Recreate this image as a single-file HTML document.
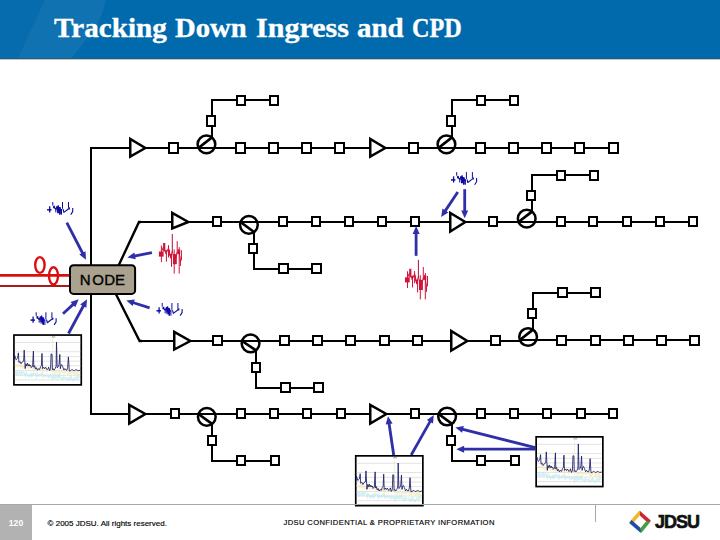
<!DOCTYPE html>
<html><head><meta charset="utf-8"><style>
html,body{margin:0;padding:0;background:#fff;}
body{width:720px;height:540px;position:relative;overflow:hidden;font-family:"Liberation Sans",sans-serif;}
#hdr{position:absolute;left:0;top:0;width:720px;height:59px;background:#006aac;overflow:hidden;}
#hdrline{position:absolute;left:0;top:59px;width:720px;height:1px;background:#b4c8d2;}
.tw{position:absolute;top:12px;font-family:"Liberation Serif",serif;font-weight:bold;font-size:28px;line-height:32px;color:#fff;white-space:nowrap;-webkit-text-stroke:0.35px #fff;transform-origin:0 0;}
#diag{position:absolute;left:0;top:0;}
#fline{position:absolute;left:0;top:504px;width:720px;height:1px;background:#a8a8a8;}
#fvline{position:absolute;left:595px;top:504px;width:1px;height:18px;background:#a8a8a8;}
#pg{position:absolute;left:0;top:505px;width:32px;height:35px;background:#b2b2b2;color:#fff;font-size:8.6px;font-weight:bold;line-height:36px;text-align:center;}
#copy{position:absolute;left:47.6px;top:519px;font-size:8px;color:#000;white-space:nowrap;-webkit-text-stroke:0.15px #000;}
#conf{position:absolute;left:283.5px;top:518.2px;font-size:7.6px;color:#000;white-space:nowrap;letter-spacing:0.38px;-webkit-text-stroke:0.15px #000;}
#logo{position:absolute;left:0;top:0;}
#jdsu{position:absolute;left:655px;top:510.5px;font-size:18px;font-weight:bold;color:#111;letter-spacing:-1.0px;white-space:nowrap;line-height:22px;-webkit-text-stroke:0.6px #111;}
</style></head><body>
<div id="hdr">
<svg width="720" height="59" style="position:absolute;left:0;top:0">
<rect x="0" y="0" width="720" height="58" fill="#066cae"/>
<path d="M18,58 L45,0 L106,0 C104,12 98,25 90,35 C84,43 78,50 72,58 Z" fill="#ffffff" fill-opacity="0.045"/>
<path d="M106,0 C104,12 98,25 90,35 C84,43 78,50 72,58 L720,58 L720,0 Z" fill="#006aac"/>
<path d="M103,0 L140,0 C130,10 120,14 105,14 Z" fill="#ffffff" fill-opacity="0.0"/>
<rect x="0" y="58" width="720" height="1" fill="#2d5a78"/>
</svg>
<div class="tw" style="left:53.6px;transform:scaleX(1.041)">Tracking</div><div class="tw" style="left:175.4px;transform:scaleX(1.023)">Down</div><div class="tw" style="left:256.2px;transform:scaleX(1.073)">Ingress</div><div class="tw" style="left:357.3px;transform:scaleX(1.035)">and</div><div class="tw" style="left:412.3px;transform:scaleX(0.863)">CPD</div>
</div>
<div id="hdrline"></div>
<svg id="diag" width="720" height="540" viewBox="0 0 720 540">
<path d="M91,147 V415" fill="none" stroke="#000" stroke-width="2.0" stroke-linejoin="miter" stroke-linecap="butt"/>
<path d="M90,148 H613" fill="none" stroke="#000" stroke-width="2.0" stroke-linejoin="miter" stroke-linecap="butt"/>
<path d="M212,140 V100 H274" fill="none" stroke="#000" stroke-width="2.0" stroke-linejoin="miter" stroke-linecap="butt"/>
<path d="M452,140 V100 H514" fill="none" stroke="#000" stroke-width="2.0" stroke-linejoin="miter" stroke-linecap="butt"/>
<path d="M138.2,222 H693" fill="none" stroke="#000" stroke-width="2.0" stroke-linejoin="miter" stroke-linecap="butt"/>
<path d="M254,228 V269 H316" fill="none" stroke="#000" stroke-width="2.0" stroke-linejoin="miter" stroke-linecap="butt"/>
<path d="M532,215 V175 H594" fill="none" stroke="#000" stroke-width="2.0" stroke-linejoin="miter" stroke-linecap="butt"/>
<path d="M139,341 H520" fill="none" stroke="#000" stroke-width="2.0" stroke-linejoin="miter" stroke-linecap="butt"/>
<path d="M519,340 H695" fill="none" stroke="#000" stroke-width="2.0" stroke-linejoin="miter" stroke-linecap="butt"/>
<path d="M256,345 V388 H318" fill="none" stroke="#000" stroke-width="2.0" stroke-linejoin="miter" stroke-linecap="butt"/>
<path d="M533,333 V293 H595" fill="none" stroke="#000" stroke-width="2.0" stroke-linejoin="miter" stroke-linecap="butt"/>
<path d="M90,414 H613" fill="none" stroke="#000" stroke-width="2.0" stroke-linejoin="miter" stroke-linecap="butt"/>
<path d="M212,420 V461 H274" fill="none" stroke="#000" stroke-width="2.0" stroke-linejoin="miter" stroke-linecap="butt"/>
<path d="M452,420 V461 H514" fill="none" stroke="#000" stroke-width="2.0" stroke-linejoin="miter" stroke-linecap="butt"/>
<path d="M118.6,265.5 L139,222 H141" fill="none" stroke="#000" stroke-width="2.4" stroke-linejoin="miter"/>
<path d="M115.6,293.5 L139.6,341 H142" fill="none" stroke="#000" stroke-width="2.4" stroke-linejoin="miter"/>
<circle cx="206.45" cy="144.3" r="8.85" fill="#fff" stroke="#000" stroke-width="2.5"/>
<path d="M197.6,148 H215.29999999999998" stroke="#000" stroke-width="2.0"/>
<path d="M198.41,148.00 L212.00,137.41" stroke="#000" stroke-width="2.7"/>
<circle cx="446.45" cy="144.3" r="8.85" fill="#fff" stroke="#000" stroke-width="2.5"/>
<path d="M437.59999999999997,148 H455.3" stroke="#000" stroke-width="2.0"/>
<path d="M438.41,148.00 L452.00,137.41" stroke="#000" stroke-width="2.7"/>
<circle cx="248.9" cy="224.8" r="8.85" fill="#fff" stroke="#000" stroke-width="2.5"/>
<path d="M240.05,222 H257.75" stroke="#000" stroke-width="2.0"/>
<path d="M240.50,222.00 L254.00,232.03" stroke="#000" stroke-width="2.7"/>
<circle cx="526.7" cy="218.7" r="8.85" fill="#fff" stroke="#000" stroke-width="2.5"/>
<path d="M517.85,222 H535.5500000000001" stroke="#000" stroke-width="2.0"/>
<path d="M518.49,222.00 L532.00,211.61" stroke="#000" stroke-width="2.7"/>
<circle cx="250.55" cy="343.45" r="8.85" fill="#fff" stroke="#000" stroke-width="2.5"/>
<path d="M241.70000000000002,341 H259.40000000000003" stroke="#000" stroke-width="2.0"/>
<path d="M242.05,341.00 L256.00,350.42" stroke="#000" stroke-width="2.7"/>
<circle cx="528.1" cy="337.0" r="8.85" fill="#fff" stroke="#000" stroke-width="2.5"/>
<path d="M519.25,340 H536.95" stroke="#000" stroke-width="2.0"/>
<path d="M519.77,340.00 L533.00,329.63" stroke="#000" stroke-width="2.7"/>
<circle cx="206.8" cy="416.8" r="8.85" fill="#fff" stroke="#000" stroke-width="2.5"/>
<path d="M197.95000000000002,414 H215.65" stroke="#000" stroke-width="2.0"/>
<path d="M198.40,414.00 L212.00,423.96" stroke="#000" stroke-width="2.7"/>
<circle cx="447.1" cy="416.5" r="8.85" fill="#fff" stroke="#000" stroke-width="2.5"/>
<path d="M438.25,414 H455.95000000000005" stroke="#000" stroke-width="2.0"/>
<path d="M438.61,414.00 L452.00,423.87" stroke="#000" stroke-width="2.7"/>
<polygon points="130.25,138.90 130.25,156.50 145.30,148" fill="#fff" stroke="#000" stroke-width="2.5" stroke-linejoin="miter" stroke-miterlimit="10"/>
<polygon points="370.25,138.90 370.25,156.50 385.30,148" fill="#fff" stroke="#000" stroke-width="2.5" stroke-linejoin="miter" stroke-miterlimit="10"/>
<polygon points="172.25,212.90 172.25,228.50 188.30,222" fill="#fff" stroke="#000" stroke-width="2.5" stroke-linejoin="miter" stroke-miterlimit="10"/>
<polygon points="450.25,212.90 450.25,231.50 465.30,222" fill="#fff" stroke="#000" stroke-width="2.5" stroke-linejoin="miter" stroke-miterlimit="10"/>
<polygon points="174.25,331.90 174.25,349.50 190.30,341" fill="#fff" stroke="#000" stroke-width="2.5" stroke-linejoin="miter" stroke-miterlimit="10"/>
<polygon points="451.25,330.90 451.25,350.50 467.30,341" fill="#fff" stroke="#000" stroke-width="2.5" stroke-linejoin="miter" stroke-miterlimit="10"/>
<polygon points="129.25,404.90 129.25,423.50 145.30,414" fill="#fff" stroke="#000" stroke-width="2.5" stroke-linejoin="miter" stroke-miterlimit="10"/>
<polygon points="370.25,404.90 370.25,423.50 386.30,414" fill="#fff" stroke="#000" stroke-width="2.5" stroke-linejoin="miter" stroke-miterlimit="10"/>
<rect x="169" y="143" width="9" height="10" fill="#fff" stroke="#000" stroke-width="2"/>
<rect x="236" y="143" width="9" height="10" fill="#fff" stroke="#000" stroke-width="2"/>
<rect x="269" y="143" width="9" height="10" fill="#fff" stroke="#000" stroke-width="2"/>
<rect x="302" y="143" width="9" height="10" fill="#fff" stroke="#000" stroke-width="2"/>
<rect x="335" y="143" width="9" height="10" fill="#fff" stroke="#000" stroke-width="2"/>
<rect x="409" y="143" width="9" height="10" fill="#fff" stroke="#000" stroke-width="2"/>
<rect x="476" y="143" width="9" height="10" fill="#fff" stroke="#000" stroke-width="2"/>
<rect x="509" y="143" width="9" height="10" fill="#fff" stroke="#000" stroke-width="2"/>
<rect x="542" y="143" width="9" height="10" fill="#fff" stroke="#000" stroke-width="2"/>
<rect x="575" y="143" width="9" height="10" fill="#fff" stroke="#000" stroke-width="2"/>
<rect x="609" y="143" width="9" height="10" fill="#fff" stroke="#000" stroke-width="2"/>
<rect x="207" y="116" width="8" height="10" fill="#fff" stroke="#000" stroke-width="2"/>
<rect x="447" y="116" width="8" height="10" fill="#fff" stroke="#000" stroke-width="2"/>
<rect x="237" y="96" width="8" height="9" fill="#fff" stroke="#000" stroke-width="2"/>
<rect x="270" y="96" width="8" height="9" fill="#fff" stroke="#000" stroke-width="2"/>
<rect x="477" y="96" width="8" height="9" fill="#fff" stroke="#000" stroke-width="2"/>
<rect x="510" y="96" width="8" height="9" fill="#fff" stroke="#000" stroke-width="2"/>
<rect x="213" y="217" width="8" height="9" fill="#fff" stroke="#000" stroke-width="2"/>
<rect x="279" y="217" width="8" height="9" fill="#fff" stroke="#000" stroke-width="2"/>
<rect x="312" y="217" width="8" height="9" fill="#fff" stroke="#000" stroke-width="2"/>
<rect x="345" y="217" width="8" height="9" fill="#fff" stroke="#000" stroke-width="2"/>
<rect x="378" y="217" width="8" height="9" fill="#fff" stroke="#000" stroke-width="2"/>
<rect x="411" y="217" width="8" height="9" fill="#fff" stroke="#000" stroke-width="2"/>
<rect x="489" y="217" width="8" height="9" fill="#fff" stroke="#000" stroke-width="2"/>
<rect x="557" y="217" width="8" height="9" fill="#fff" stroke="#000" stroke-width="2"/>
<rect x="589" y="217" width="8" height="9" fill="#fff" stroke="#000" stroke-width="2"/>
<rect x="623" y="217" width="8" height="9" fill="#fff" stroke="#000" stroke-width="2"/>
<rect x="656" y="217" width="8" height="9" fill="#fff" stroke="#000" stroke-width="2"/>
<rect x="689" y="217" width="8" height="9" fill="#fff" stroke="#000" stroke-width="2"/>
<rect x="249" y="244" width="8" height="9" fill="#fff" stroke="#000" stroke-width="2"/>
<rect x="527" y="191" width="8" height="9" fill="#fff" stroke="#000" stroke-width="2"/>
<rect x="279" y="264" width="9" height="9" fill="#fff" stroke="#000" stroke-width="2"/>
<rect x="312" y="264" width="9" height="9" fill="#fff" stroke="#000" stroke-width="2"/>
<rect x="557" y="171" width="8" height="9" fill="#fff" stroke="#000" stroke-width="2"/>
<rect x="590" y="171" width="8" height="9" fill="#fff" stroke="#000" stroke-width="2"/>
<rect x="213" y="336" width="9" height="9" fill="#fff" stroke="#000" stroke-width="2"/>
<rect x="280" y="336" width="9" height="9" fill="#fff" stroke="#000" stroke-width="2"/>
<rect x="313" y="336" width="9" height="9" fill="#fff" stroke="#000" stroke-width="2"/>
<rect x="346" y="336" width="9" height="9" fill="#fff" stroke="#000" stroke-width="2"/>
<rect x="380" y="336" width="9" height="9" fill="#fff" stroke="#000" stroke-width="2"/>
<rect x="413" y="336" width="9" height="9" fill="#fff" stroke="#000" stroke-width="2"/>
<rect x="491" y="336" width="9" height="9" fill="#fff" stroke="#000" stroke-width="2"/>
<rect x="557" y="336" width="9" height="9" fill="#fff" stroke="#000" stroke-width="2"/>
<rect x="591" y="336" width="9" height="9" fill="#fff" stroke="#000" stroke-width="2"/>
<rect x="624" y="336" width="9" height="9" fill="#fff" stroke="#000" stroke-width="2"/>
<rect x="657" y="336" width="9" height="9" fill="#fff" stroke="#000" stroke-width="2"/>
<rect x="690" y="336" width="9" height="9" fill="#fff" stroke="#000" stroke-width="2"/>
<rect x="252" y="363" width="8" height="9" fill="#fff" stroke="#000" stroke-width="2"/>
<rect x="528" y="309" width="8" height="9" fill="#fff" stroke="#000" stroke-width="2"/>
<rect x="281" y="383" width="9" height="9" fill="#fff" stroke="#000" stroke-width="2"/>
<rect x="314" y="383" width="9" height="9" fill="#fff" stroke="#000" stroke-width="2"/>
<rect x="558" y="288" width="9" height="9" fill="#fff" stroke="#000" stroke-width="2"/>
<rect x="591" y="288" width="9" height="9" fill="#fff" stroke="#000" stroke-width="2"/>
<rect x="171" y="409" width="8" height="9" fill="#fff" stroke="#000" stroke-width="2"/>
<rect x="237" y="409" width="8" height="9" fill="#fff" stroke="#000" stroke-width="2"/>
<rect x="270" y="409" width="8" height="9" fill="#fff" stroke="#000" stroke-width="2"/>
<rect x="303" y="409" width="8" height="9" fill="#fff" stroke="#000" stroke-width="2"/>
<rect x="337" y="409" width="8" height="9" fill="#fff" stroke="#000" stroke-width="2"/>
<rect x="411" y="409" width="8" height="9" fill="#fff" stroke="#000" stroke-width="2"/>
<rect x="477" y="409" width="8" height="9" fill="#fff" stroke="#000" stroke-width="2"/>
<rect x="510" y="409" width="8" height="9" fill="#fff" stroke="#000" stroke-width="2"/>
<rect x="543" y="409" width="8" height="9" fill="#fff" stroke="#000" stroke-width="2"/>
<rect x="577" y="409" width="8" height="9" fill="#fff" stroke="#000" stroke-width="2"/>
<rect x="609" y="409" width="8" height="9" fill="#fff" stroke="#000" stroke-width="2"/>
<rect x="208" y="436" width="8" height="9" fill="#fff" stroke="#000" stroke-width="2"/>
<rect x="447" y="436" width="8" height="9" fill="#fff" stroke="#000" stroke-width="2"/>
<rect x="237" y="456" width="8" height="9" fill="#fff" stroke="#000" stroke-width="2"/>
<rect x="271" y="456" width="8" height="9" fill="#fff" stroke="#000" stroke-width="2"/>
<rect x="477" y="456" width="8" height="9" fill="#fff" stroke="#000" stroke-width="2"/>
<rect x="511" y="456" width="8" height="9" fill="#fff" stroke="#000" stroke-width="2"/>
<path d="M0,275.3 H70" stroke="#d81010" stroke-width="2.8"/>
<path d="M0,285.9 H70" stroke="#a81c1c" stroke-width="2"/>
<ellipse cx="39.9" cy="265" rx="4.7" ry="7.9" fill="none" stroke="#d81010" stroke-width="2.4"/>
<ellipse cx="53.5" cy="275.8" rx="4.5" ry="8.6" fill="none" stroke="#d81010" stroke-width="2.4"/>
<rect x="70" y="265.3" width="65.1" height="28.6" rx="3.5" fill="#aaa18f" stroke="#000" stroke-width="2"/>
<text x="79.8 92.2 104.2 115.0" y="284.7" font-family="Liberation Sans" font-size="15" fill="#000" stroke="#000" stroke-width="0.35">NODE</text>
<path d="M66.80,222.60 L82.88,253.76" stroke="#2f2fa8" stroke-width="2.8"/>
<polygon points="86.00,259.80 79.31,254.47 85.53,251.26" fill="#2f2fa8"/>
<path d="M151.90,252.60 L134.07,256.09" stroke="#2f2fa8" stroke-width="2.8"/>
<polygon points="127.40,257.40 134.38,252.47 135.73,259.34" fill="#2f2fa8"/>
<path d="M149.60,307.80 L132.78,302.46" stroke="#2f2fa8" stroke-width="2.8"/>
<polygon points="126.30,300.40 134.79,299.43 132.67,306.10" fill="#2f2fa8"/>
<path d="M63.00,313.70 L73.69,303.90" stroke="#2f2fa8" stroke-width="2.8"/>
<polygon points="78.70,299.30 75.32,307.15 70.59,301.99" fill="#2f2fa8"/>
<path d="M68.50,333.50 L83.76,305.28" stroke="#2f2fa8" stroke-width="2.8"/>
<polygon points="87.00,299.30 86.37,307.83 80.21,304.50" fill="#2f2fa8"/>
<path d="M457.80,192.00 L444.88,211.35" stroke="#2f2fa8" stroke-width="2.8"/>
<polygon points="441.10,217.00 442.52,208.57 448.34,212.46" fill="#2f2fa8"/>
<path d="M464.70,189.20 L464.70,211.50" stroke="#2f2fa8" stroke-width="2.8"/>
<polygon points="464.70,218.30 461.20,210.50 468.20,210.50" fill="#2f2fa8"/>
<path d="M416.10,255.80 L416.10,232.90" stroke="#2f2fa8" stroke-width="2.8"/>
<polygon points="416.10,226.10 419.60,233.90 412.60,233.90" fill="#2f2fa8"/>
<path d="M393.70,455.00 L388.99,423.03" stroke="#2f2fa8" stroke-width="2.8"/>
<polygon points="388.00,416.30 392.60,423.51 385.67,424.53" fill="#2f2fa8"/>
<path d="M411.20,455.00 L430.45,420.92" stroke="#2f2fa8" stroke-width="2.8"/>
<polygon points="433.80,415.00 433.01,423.51 426.92,420.07" fill="#2f2fa8"/>
<path d="M535.30,447.60 L461.99,429.07" stroke="#2f2fa8" stroke-width="2.8"/>
<polygon points="455.40,427.40 463.82,425.92 462.10,432.71" fill="#2f2fa8"/>
<path d="M535.30,449.20 L463.10,449.20" stroke="#2f2fa8" stroke-width="2.8"/>
<polygon points="456.30,449.20 464.10,445.70 464.10,452.70" fill="#2f2fa8"/>
<g transform="translate(47.1,202.0)" stroke="#0c0ca0" fill="#0c0ca0" stroke-linecap="butt"><path d="M0,7.8 H4.4" stroke-width="1.5" fill="none"/><path d="M2.6,4.2 V10.4" stroke-width="1.3" fill="none"/><path d="M5.7,0 V3.6 M8.7,5.8 V10.4 M10.5,5.5 V11.2 M13.1,5 V12.2 M14.4,7 V12.7 M15.4,0 V6.8 M21.4,0 V5.8" stroke-width="1" fill="none"/><path d="M6.6,5 L8.7,7.2 L10,6.5 M16,7.2 L16.8,10.4 L20.6,7.5 L21.6,6.5 M25.6,6 V9.6 L23.6,12.6" stroke-width="1.1" fill="none" stroke-linejoin="round"/><rect x="6" y="3.8" width="1.8" height="2.4" stroke="none"/><path d="M9.3,6.5 L10,4.2 L10.5,9.5 L11.1,3.2 L11.7,11.2 L12.3,5 L12.7,12.7 L13.2,6.5 L13.6,9" stroke-width="1.3" fill="none" stroke-linejoin="miter" stroke-miterlimit="2"/><rect x="21.4" y="5.4" width="1.5" height="2" stroke="none"/></g>
<g transform="translate(156.5,303.0)" stroke="#0c0ca0" fill="#0c0ca0" stroke-linecap="butt"><path d="M0,7.8 H4.4" stroke-width="1.5" fill="none"/><path d="M2.6,4.2 V10.4" stroke-width="1.3" fill="none"/><path d="M5.7,0 V3.6 M8.7,5.8 V10.4 M10.5,5.5 V11.2 M13.1,5 V12.2 M14.4,7 V12.7 M15.4,0 V6.8 M21.4,0 V5.8" stroke-width="1" fill="none"/><path d="M6.6,5 L8.7,7.2 L10,6.5 M16,7.2 L16.8,10.4 L20.6,7.5 L21.6,6.5 M25.6,6 V9.6 L23.6,12.6" stroke-width="1.1" fill="none" stroke-linejoin="round"/><rect x="6" y="3.8" width="1.8" height="2.4" stroke="none"/><path d="M9.3,6.5 L10,4.2 L10.5,9.5 L11.1,3.2 L11.7,11.2 L12.3,5 L12.7,12.7 L13.2,6.5 L13.6,9" stroke-width="1.3" fill="none" stroke-linejoin="miter" stroke-miterlimit="2"/><rect x="21.4" y="5.4" width="1.5" height="2" stroke="none"/></g>
<g transform="translate(30.5,312.3)" stroke="#0c0ca0" fill="#0c0ca0" stroke-linecap="butt"><path d="M0,7.8 H4.4" stroke-width="1.5" fill="none"/><path d="M2.6,4.2 V10.4" stroke-width="1.3" fill="none"/><path d="M5.7,0 V3.6 M8.7,5.8 V10.4 M10.5,5.5 V11.2 M13.1,5 V12.2 M14.4,7 V12.7 M15.4,0 V6.8 M21.4,0 V5.8" stroke-width="1" fill="none"/><path d="M6.6,5 L8.7,7.2 L10,6.5 M16,7.2 L16.8,10.4 L20.6,7.5 L21.6,6.5 M25.6,6 V9.6 L23.6,12.6" stroke-width="1.1" fill="none" stroke-linejoin="round"/><rect x="6" y="3.8" width="1.8" height="2.4" stroke="none"/><path d="M9.3,6.5 L10,4.2 L10.5,9.5 L11.1,3.2 L11.7,11.2 L12.3,5 L12.7,12.7 L13.2,6.5 L13.6,9" stroke-width="1.3" fill="none" stroke-linejoin="miter" stroke-miterlimit="2"/><rect x="21.4" y="5.4" width="1.5" height="2" stroke="none"/></g>
<g transform="translate(451.0,172.1)" stroke="#0c0ca0" fill="#0c0ca0" stroke-linecap="butt"><path d="M0,7.8 H4.4" stroke-width="1.5" fill="none"/><path d="M2.6,4.2 V10.4" stroke-width="1.3" fill="none"/><path d="M5.7,0 V3.6 M8.7,5.8 V10.4 M10.5,5.5 V11.2 M13.1,5 V12.2 M14.4,7 V12.7 M15.4,0 V6.8 M21.4,0 V5.8" stroke-width="1" fill="none"/><path d="M6.6,5 L8.7,7.2 L10,6.5 M16,7.2 L16.8,10.4 L20.6,7.5 L21.6,6.5 M25.6,6 V9.6 L23.6,12.6" stroke-width="1.1" fill="none" stroke-linejoin="round"/><rect x="6" y="3.8" width="1.8" height="2.4" stroke="none"/><path d="M9.3,6.5 L10,4.2 L10.5,9.5 L11.1,3.2 L11.7,11.2 L12.3,5 L12.7,12.7 L13.2,6.5 L13.6,9" stroke-width="1.3" fill="none" stroke-linejoin="miter" stroke-miterlimit="2"/><rect x="21.4" y="5.4" width="1.5" height="2" stroke="none"/></g>
<g transform="translate(158.9,234.0)" stroke-linecap="butt"><path d="M0.4,20 L2.5,18 L4.5,13 L6,17 L7.5,19 L9.6,14 L10.6,19 L12,22 L13.4,17 L15.3,26 L17,24 L18.3,18 L20.3,18 L21.5,28 L22.5,22" stroke="#d0143c" stroke-width="1" fill="none" stroke-linejoin="round"/><g fill="#d0143c" stroke="none"><rect x="0" y="17.5" width="4.7" height="5.1"/><rect x="4.2" y="9" width="2.2" height="8.5"/><rect x="6.4" y="15.8" width="1.6" height="4.2"/><rect x="11" y="20" width="1.8" height="4.3"/><rect x="14" y="20.1" width="3.9" height="10.1"/><rect x="18.7" y="15.4" width="2.6" height="4.7"/></g><path d="M2.5,11.5 V28.2 M7.5,18.2 V27.7 M9.6,11.2 V23.5 M10.6,15.8 V21.7 M12.6,20.1 V32.8 M15.3,15.4 V39.6 M18.3,7.2 V20.1 M20.3,13.2 V39.6 M21.5,26.9 V32 M22.5,16.2 V26.4" stroke="#d0143c" stroke-width="1" fill="none"/><path d="M13.4,0 V17.5" stroke="#a8163e" stroke-width="1" fill="none"/></g>
<g transform="translate(405.0,259.8)" stroke-linecap="butt"><path d="M0.4,20 L2.5,18 L4.5,13 L6,17 L7.5,19 L9.6,14 L10.6,19 L12,22 L13.4,17 L15.3,26 L17,24 L18.3,18 L20.3,18 L21.5,28 L22.5,22" stroke="#d0143c" stroke-width="1" fill="none" stroke-linejoin="round"/><g fill="#d0143c" stroke="none"><rect x="0" y="17.5" width="4.7" height="5.1"/><rect x="4.2" y="9" width="2.2" height="8.5"/><rect x="6.4" y="15.8" width="1.6" height="4.2"/><rect x="11" y="20" width="1.8" height="4.3"/><rect x="14" y="20.1" width="3.9" height="10.1"/><rect x="18.7" y="15.4" width="2.6" height="4.7"/></g><path d="M2.5,11.5 V28.2 M7.5,18.2 V27.7 M9.6,11.2 V23.5 M10.6,15.8 V21.7 M12.6,20.1 V32.8 M15.3,15.4 V39.6 M18.3,7.2 V20.1 M20.3,13.2 V39.6 M21.5,26.9 V32 M22.5,16.2 V26.4" stroke="#d0143c" stroke-width="1" fill="none"/><path d="M13.4,0 V17.5" stroke="#a8163e" stroke-width="1" fill="none"/></g>
<g transform="translate(13.1,334.2) scale(1.0000,1.0000)"><rect x="0.85" y="0.85" width="67.3" height="49.8" fill="#fff" stroke="#000" stroke-width="1.7"/><path d="M1.8,8.3 H67.2" stroke="#dcdcd8" stroke-width="0.8"/><path d="M1.8,17.5 H67.2" stroke="#dcdcd8" stroke-width="0.8"/><path d="M1.8,22.4 H67.2" stroke="#dcdcd8" stroke-width="0.8"/><path d="M1.8,27 H67.2" stroke="#dcdcd8" stroke-width="0.8"/><path d="M1.8,31.6 H67.2" stroke="#dcdcd8" stroke-width="0.8"/><path d="M1.8,36.5 H67.2" stroke="#dcdcd8" stroke-width="0.8"/><path d="M1.8,41 H67.2" stroke="#dcdcd8" stroke-width="0.8"/><path d="M1.8,45.7 H67.2" stroke="#dcdcd8" stroke-width="0.8"/><path d="M1.80,38.58 L2.60,37.75 L3.40,40.41 L4.20,37.46 L5.00,39.93 L5.80,39.11 L6.60,37.57 L7.40,39.97 L8.20,37.58 L9.00,39.71 L9.80,37.87 L10.60,38.04 L11.40,39.84 L12.20,41.99 L13.00,38.40 L13.80,38.98 L14.60,41.14 L15.40,42.87 L16.20,41.00 L17.00,40.12 L17.80,43.20 L18.60,38.43 L19.40,42.71 L20.20,39.81 L21.00,39.12 L21.80,39.04 L22.60,40.09 L23.40,42.80 L24.20,39.55 L25.00,41.70 L25.80,42.06 L26.60,40.73 L27.40,41.71 L28.20,39.24 L29.00,39.29 L29.80,40.11 L30.60,42.64 L31.40,41.39 L32.20,40.86 L33.00,42.33 L33.80,41.70 L34.60,40.97 L35.40,43.60 L36.20,43.16 L37.00,40.86 L37.80,42.64 L38.60,42.44 L39.40,44.33 L40.20,43.63 L41.00,41.39 L41.80,45.06 L42.60,40.63 L43.40,42.25 L44.20,44.08 L45.00,40.99 L45.80,42.81 L46.60,40.53 L47.40,43.86 L48.20,44.42 L49.00,43.49 L49.80,45.12 L50.60,42.26 L51.40,44.31 L52.20,43.84 L53.00,43.83 L53.80,43.25 L54.60,45.30 L55.40,45.91 L56.20,43.52 L57.00,44.57 L57.80,41.50 L58.60,44.89 L59.40,44.67 L60.20,46.53 L61.00,45.70 L61.80,42.97 L62.60,43.55 L63.40,45.09 L64.20,41.79 L65.00,44.13 L65.80,42.67 L66.60,42.46" fill="none" stroke="#b4e8f2" stroke-width="1.4" stroke-opacity="0.6"/><path d="M1.80,30.06 L2.60,31.26 L3.40,30.74 L4.20,31.69 L5.00,31.87 L5.80,29.96 L6.60,29.87 L7.40,32.94 L8.20,30.97 L9.00,30.98 L9.80,33.82 L10.60,32.04 L11.40,33.46 L12.20,32.27 L13.00,32.96 L13.80,31.30 L14.60,33.15 L15.40,34.09 L16.20,32.96 L17.00,33.84 L17.80,33.70 L18.60,31.61 L19.40,34.22 L20.20,33.72 L21.00,32.78 L21.80,31.91 L22.60,35.02 L23.40,33.71 L24.20,34.70 L25.00,35.38 L25.80,34.89 L26.60,35.74 L27.40,33.95 L28.20,35.51 L29.00,34.34 L29.80,36.21 L30.60,36.11 L31.40,33.40 L32.20,33.64 L33.00,34.04 L33.80,36.83 L34.60,35.03 L35.40,35.82 L36.20,34.75 L37.00,35.60 L37.80,35.27 L38.60,35.25 L39.40,36.19 L40.20,36.29 L41.00,37.55 L41.80,36.85 L42.60,37.85 L43.40,37.69 L44.20,38.28 L45.00,37.23 L45.80,35.51 L46.60,38.12 L47.40,38.60 L48.20,38.49 L49.00,37.38 L49.80,38.01 L50.60,36.30 L51.40,38.64 L52.20,37.82 L53.00,36.88 L53.80,36.19 L54.60,39.14 L55.40,39.73 L56.20,36.59 L57.00,39.26 L57.80,37.96 L58.60,37.13 L59.40,37.74 L60.20,39.56 L61.00,40.04 L61.80,37.16 L62.60,39.31 L63.40,37.37 L64.20,39.90 L65.00,38.61 L65.80,40.69 L66.60,41.15" fill="none" stroke="#f2e6a8" stroke-width="1.4" stroke-opacity="0.65"/><path d="M39.6,3 V48 M20.5,30 V40 M29.5,34 V44" stroke="#e8e0c0" stroke-width="0.6" stroke-opacity="0.8"/><path d="M1.1,24.8 L1.6,21.2 L2.9,25.5 L4.5,24 L5.3,18.7 L5.8,28.3 L7,27.3 L8,29.6 L9,27.8 L10.5,27 L11.1,15.9 L12.1,34.4 L12.8,29.5 L13.6,31.8 L14.4,29.0 L15.2,31.9 L16,30.1 L16.7,31.9 L17.5,31.0 L18.2,33.4 L19.5,32.0 L20.3,16.9 L20.7,33.0 L21.5,31.5 L22.3,34.9 L23.3,33.5 L24.3,36.0 L25.3,34.5 L26.4,35.4 L27.5,32.5 L28.3,31.5 L28.9,19.2 L29.4,34.5 L30.5,33.0 L31.5,34.6 L32.5,33.1 L34,35.6 L35,34.5 L35.5,32.9 L36.5,36.5 L37.5,34.5 L38,19.7 L38.9,20 L39.3,35.5 L40,34.5 L41,36.0 L42,34.5 L43,32 L43.4,8 L44.1,33.6 L45.2,32.5 L46,30 L46.7,20.2 L47.2,34.5 L48,31 L48.7,30.4 L49.6,32.5 L50.8,35.9 L51.5,34.5 L52.3,34.9 L53,36 L53.8,35.9 L54.6,33 L55.3,22.7 L56.2,36.8 L57.4,36.5 L58.4,35.6 L59.4,35.5 L60.4,36.6 L61.5,36.3 L62.5,35.6 L64,35.8 L65,36.6 L67.2,36" fill="none" stroke="#1a1a6a" stroke-width="0.85" stroke-linejoin="miter"/><path d="M38.9,3.4 L39.5,2.2 L40.5,2.9 L41.3,2.2 L41.9,3.4" fill="none" stroke="#606070" stroke-width="0.6"/></g>
<g transform="translate(354.9,455.0) scale(0.9971,1.0000)"><rect x="0.85" y="0.85" width="67.3" height="49.8" fill="#fff" stroke="#000" stroke-width="1.7"/><path d="M1.8,8.3 H67.2" stroke="#dcdcd8" stroke-width="0.8"/><path d="M1.8,17.5 H67.2" stroke="#dcdcd8" stroke-width="0.8"/><path d="M1.8,22.4 H67.2" stroke="#dcdcd8" stroke-width="0.8"/><path d="M1.8,27 H67.2" stroke="#dcdcd8" stroke-width="0.8"/><path d="M1.8,31.6 H67.2" stroke="#dcdcd8" stroke-width="0.8"/><path d="M1.8,36.5 H67.2" stroke="#dcdcd8" stroke-width="0.8"/><path d="M1.8,41 H67.2" stroke="#dcdcd8" stroke-width="0.8"/><path d="M1.8,45.7 H67.2" stroke="#dcdcd8" stroke-width="0.8"/><path d="M1.80,38.58 L2.60,37.75 L3.40,40.41 L4.20,37.46 L5.00,39.93 L5.80,39.11 L6.60,37.57 L7.40,39.97 L8.20,37.58 L9.00,39.71 L9.80,37.87 L10.60,38.04 L11.40,39.84 L12.20,41.99 L13.00,38.40 L13.80,38.98 L14.60,41.14 L15.40,42.87 L16.20,41.00 L17.00,40.12 L17.80,43.20 L18.60,38.43 L19.40,42.71 L20.20,39.81 L21.00,39.12 L21.80,39.04 L22.60,40.09 L23.40,42.80 L24.20,39.55 L25.00,41.70 L25.80,42.06 L26.60,40.73 L27.40,41.71 L28.20,39.24 L29.00,39.29 L29.80,40.11 L30.60,42.64 L31.40,41.39 L32.20,40.86 L33.00,42.33 L33.80,41.70 L34.60,40.97 L35.40,43.60 L36.20,43.16 L37.00,40.86 L37.80,42.64 L38.60,42.44 L39.40,44.33 L40.20,43.63 L41.00,41.39 L41.80,45.06 L42.60,40.63 L43.40,42.25 L44.20,44.08 L45.00,40.99 L45.80,42.81 L46.60,40.53 L47.40,43.86 L48.20,44.42 L49.00,43.49 L49.80,45.12 L50.60,42.26 L51.40,44.31 L52.20,43.84 L53.00,43.83 L53.80,43.25 L54.60,45.30 L55.40,45.91 L56.20,43.52 L57.00,44.57 L57.80,41.50 L58.60,44.89 L59.40,44.67 L60.20,46.53 L61.00,45.70 L61.80,42.97 L62.60,43.55 L63.40,45.09 L64.20,41.79 L65.00,44.13 L65.80,42.67 L66.60,42.46" fill="none" stroke="#b4e8f2" stroke-width="1.4" stroke-opacity="0.6"/><path d="M1.80,30.06 L2.60,31.26 L3.40,30.74 L4.20,31.69 L5.00,31.87 L5.80,29.96 L6.60,29.87 L7.40,32.94 L8.20,30.97 L9.00,30.98 L9.80,33.82 L10.60,32.04 L11.40,33.46 L12.20,32.27 L13.00,32.96 L13.80,31.30 L14.60,33.15 L15.40,34.09 L16.20,32.96 L17.00,33.84 L17.80,33.70 L18.60,31.61 L19.40,34.22 L20.20,33.72 L21.00,32.78 L21.80,31.91 L22.60,35.02 L23.40,33.71 L24.20,34.70 L25.00,35.38 L25.80,34.89 L26.60,35.74 L27.40,33.95 L28.20,35.51 L29.00,34.34 L29.80,36.21 L30.60,36.11 L31.40,33.40 L32.20,33.64 L33.00,34.04 L33.80,36.83 L34.60,35.03 L35.40,35.82 L36.20,34.75 L37.00,35.60 L37.80,35.27 L38.60,35.25 L39.40,36.19 L40.20,36.29 L41.00,37.55 L41.80,36.85 L42.60,37.85 L43.40,37.69 L44.20,38.28 L45.00,37.23 L45.80,35.51 L46.60,38.12 L47.40,38.60 L48.20,38.49 L49.00,37.38 L49.80,38.01 L50.60,36.30 L51.40,38.64 L52.20,37.82 L53.00,36.88 L53.80,36.19 L54.60,39.14 L55.40,39.73 L56.20,36.59 L57.00,39.26 L57.80,37.96 L58.60,37.13 L59.40,37.74 L60.20,39.56 L61.00,40.04 L61.80,37.16 L62.60,39.31 L63.40,37.37 L64.20,39.90 L65.00,38.61 L65.80,40.69 L66.60,41.15" fill="none" stroke="#f2e6a8" stroke-width="1.4" stroke-opacity="0.65"/><path d="M39.6,3 V48 M20.5,30 V40 M29.5,34 V44" stroke="#e8e0c0" stroke-width="0.6" stroke-opacity="0.8"/><path d="M1.1,24.8 L1.6,21.2 L2.9,25.5 L4.5,24 L5.3,18.7 L5.8,28.3 L7,27.3 L8,29.6 L9,27.8 L10.5,27 L11.1,15.9 L12.1,34.4 L12.8,29.5 L13.6,31.8 L14.4,29.0 L15.2,31.9 L16,30.1 L16.7,31.9 L17.5,31.0 L18.2,33.4 L19.5,32.0 L20.3,16.9 L20.7,33.0 L21.5,31.5 L22.3,34.9 L23.3,33.5 L24.3,36.0 L25.3,34.5 L26.4,35.4 L27.5,32.5 L28.3,31.5 L28.9,19.2 L29.4,34.5 L30.5,33.0 L31.5,34.6 L32.5,33.1 L34,35.6 L35,34.5 L35.5,32.9 L36.5,36.5 L37.5,34.5 L38,19.7 L38.9,20 L39.3,35.5 L40,34.5 L41,36.0 L42,34.5 L43,32 L43.4,8 L44.1,33.6 L45.2,32.5 L46,30 L46.7,20.2 L47.2,34.5 L48,31 L48.7,30.4 L49.6,32.5 L50.8,35.9 L51.5,34.5 L52.3,34.9 L53,36 L53.8,35.9 L54.6,33 L55.3,22.7 L56.2,36.8 L57.4,36.5 L58.4,35.6 L59.4,35.5 L60.4,36.6 L61.5,36.3 L62.5,35.6 L64,35.8 L65,36.6 L67.2,36" fill="none" stroke="#1a1a6a" stroke-width="0.85" stroke-linejoin="miter"/><path d="M38.9,3.4 L39.5,2.2 L40.5,2.9 L41.3,2.2 L41.9,3.4" fill="none" stroke="#606070" stroke-width="0.6"/></g>
<g transform="translate(535.3,436.0) scale(0.9913,0.9981)"><rect x="0.85" y="0.85" width="67.3" height="49.8" fill="#fff" stroke="#000" stroke-width="1.7"/><path d="M1.8,8.3 H67.2" stroke="#dcdcd8" stroke-width="0.8"/><path d="M1.8,17.5 H67.2" stroke="#dcdcd8" stroke-width="0.8"/><path d="M1.8,22.4 H67.2" stroke="#dcdcd8" stroke-width="0.8"/><path d="M1.8,27 H67.2" stroke="#dcdcd8" stroke-width="0.8"/><path d="M1.8,31.6 H67.2" stroke="#dcdcd8" stroke-width="0.8"/><path d="M1.8,36.5 H67.2" stroke="#dcdcd8" stroke-width="0.8"/><path d="M1.8,41 H67.2" stroke="#dcdcd8" stroke-width="0.8"/><path d="M1.8,45.7 H67.2" stroke="#dcdcd8" stroke-width="0.8"/><path d="M1.80,38.58 L2.60,37.75 L3.40,40.41 L4.20,37.46 L5.00,39.93 L5.80,39.11 L6.60,37.57 L7.40,39.97 L8.20,37.58 L9.00,39.71 L9.80,37.87 L10.60,38.04 L11.40,39.84 L12.20,41.99 L13.00,38.40 L13.80,38.98 L14.60,41.14 L15.40,42.87 L16.20,41.00 L17.00,40.12 L17.80,43.20 L18.60,38.43 L19.40,42.71 L20.20,39.81 L21.00,39.12 L21.80,39.04 L22.60,40.09 L23.40,42.80 L24.20,39.55 L25.00,41.70 L25.80,42.06 L26.60,40.73 L27.40,41.71 L28.20,39.24 L29.00,39.29 L29.80,40.11 L30.60,42.64 L31.40,41.39 L32.20,40.86 L33.00,42.33 L33.80,41.70 L34.60,40.97 L35.40,43.60 L36.20,43.16 L37.00,40.86 L37.80,42.64 L38.60,42.44 L39.40,44.33 L40.20,43.63 L41.00,41.39 L41.80,45.06 L42.60,40.63 L43.40,42.25 L44.20,44.08 L45.00,40.99 L45.80,42.81 L46.60,40.53 L47.40,43.86 L48.20,44.42 L49.00,43.49 L49.80,45.12 L50.60,42.26 L51.40,44.31 L52.20,43.84 L53.00,43.83 L53.80,43.25 L54.60,45.30 L55.40,45.91 L56.20,43.52 L57.00,44.57 L57.80,41.50 L58.60,44.89 L59.40,44.67 L60.20,46.53 L61.00,45.70 L61.80,42.97 L62.60,43.55 L63.40,45.09 L64.20,41.79 L65.00,44.13 L65.80,42.67 L66.60,42.46" fill="none" stroke="#b4e8f2" stroke-width="1.4" stroke-opacity="0.6"/><path d="M1.80,30.06 L2.60,31.26 L3.40,30.74 L4.20,31.69 L5.00,31.87 L5.80,29.96 L6.60,29.87 L7.40,32.94 L8.20,30.97 L9.00,30.98 L9.80,33.82 L10.60,32.04 L11.40,33.46 L12.20,32.27 L13.00,32.96 L13.80,31.30 L14.60,33.15 L15.40,34.09 L16.20,32.96 L17.00,33.84 L17.80,33.70 L18.60,31.61 L19.40,34.22 L20.20,33.72 L21.00,32.78 L21.80,31.91 L22.60,35.02 L23.40,33.71 L24.20,34.70 L25.00,35.38 L25.80,34.89 L26.60,35.74 L27.40,33.95 L28.20,35.51 L29.00,34.34 L29.80,36.21 L30.60,36.11 L31.40,33.40 L32.20,33.64 L33.00,34.04 L33.80,36.83 L34.60,35.03 L35.40,35.82 L36.20,34.75 L37.00,35.60 L37.80,35.27 L38.60,35.25 L39.40,36.19 L40.20,36.29 L41.00,37.55 L41.80,36.85 L42.60,37.85 L43.40,37.69 L44.20,38.28 L45.00,37.23 L45.80,35.51 L46.60,38.12 L47.40,38.60 L48.20,38.49 L49.00,37.38 L49.80,38.01 L50.60,36.30 L51.40,38.64 L52.20,37.82 L53.00,36.88 L53.80,36.19 L54.60,39.14 L55.40,39.73 L56.20,36.59 L57.00,39.26 L57.80,37.96 L58.60,37.13 L59.40,37.74 L60.20,39.56 L61.00,40.04 L61.80,37.16 L62.60,39.31 L63.40,37.37 L64.20,39.90 L65.00,38.61 L65.80,40.69 L66.60,41.15" fill="none" stroke="#f2e6a8" stroke-width="1.4" stroke-opacity="0.65"/><path d="M39.6,3 V48 M20.5,30 V40 M29.5,34 V44" stroke="#e8e0c0" stroke-width="0.6" stroke-opacity="0.8"/><path d="M1.1,24.8 L1.6,21.2 L2.9,25.5 L4.5,24 L5.3,18.7 L5.8,28.3 L7,27.3 L8,29.6 L9,27.8 L10.5,27 L11.1,15.9 L12.1,34.4 L12.8,29.5 L13.6,31.8 L14.4,29.0 L15.2,31.9 L16,30.1 L16.7,31.9 L17.5,31.0 L18.2,33.4 L19.5,32.0 L20.3,16.9 L20.7,33.0 L21.5,31.5 L22.3,34.9 L23.3,33.5 L24.3,36.0 L25.3,34.5 L26.4,35.4 L27.5,32.5 L28.3,31.5 L28.9,19.2 L29.4,34.5 L30.5,33.0 L31.5,34.6 L32.5,33.1 L34,35.6 L35,34.5 L35.5,32.9 L36.5,36.5 L37.5,34.5 L38,19.7 L38.9,20 L39.3,35.5 L40,34.5 L41,36.0 L42,34.5 L43,32 L43.4,8 L44.1,33.6 L45.2,32.5 L46,30 L46.7,20.2 L47.2,34.5 L48,31 L48.7,30.4 L49.6,32.5 L50.8,35.9 L51.5,34.5 L52.3,34.9 L53,36 L53.8,35.9 L54.6,33 L55.3,22.7 L56.2,36.8 L57.4,36.5 L58.4,35.6 L59.4,35.5 L60.4,36.6 L61.5,36.3 L62.5,35.6 L64,35.8 L65,36.6 L67.2,36" fill="none" stroke="#1a1a6a" stroke-width="0.85" stroke-linejoin="miter"/><path d="M38.9,3.4 L39.5,2.2 L40.5,2.9 L41.3,2.2 L41.9,3.4" fill="none" stroke="#606070" stroke-width="0.6"/></g>
</svg>
<div id="fline"></div>
<div id="fvline"></div>
<div id="pg">120</div>
<div id="copy">&copy; 2005 JDSU. All rights reserved.</div>
<div id="conf">JDSU CONFIDENTIAL &amp; PROPRIETARY INFORMATION</div>
<svg id="logo" width="720" height="540" style="position:absolute;left:0;top:0">
<polygon points="629.13,522.22 639.07,510.68 641.88,513.09 634.34,521.83" fill="#f0b82a"/>
<polygon points="639.77,510.63 650.83,520.57 648.36,523.32 640.05,515.86" fill="#cc2630"/>
<polygon points="650.88,521.29 641.52,532.81 638.64,530.48 645.68,521.82" fill="#46a043"/>
<polygon points="640.82,532.88 629.18,522.92 631.58,520.11 640.41,527.66" fill="#1f4f9f"/>
</svg>
<div id="jdsu">JDSU</div>
</body></html>
